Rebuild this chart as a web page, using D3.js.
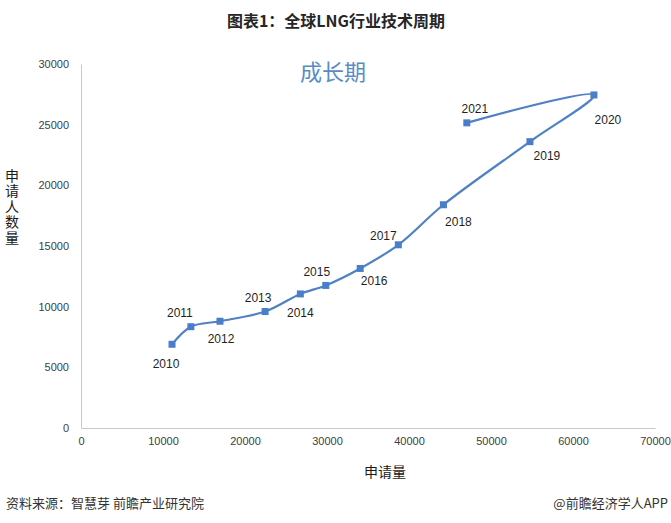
<!DOCTYPE html>
<html>
<head>
<meta charset="utf-8">
<script src="https://cdn.jsdelivr.net/npm/d3@7/dist/d3.min.js"></script>
<style>
  html, body { margin: 0; padding: 0; background: #ffffff; }
  svg { display: block; }
</style>
</head>
<body>
<svg id="chart" width="671" height="523"></svg>
<script>
// ---- data ----
const years = ["2010","2011","2012","2013","2014","2015","2016","2017","2018","2019","2020","2021"];
const applications = [11100, 13400, 16950, 22450, 26750, 29850, 34050, 38700, 44200, 54750, 62550, 47050]; // 申请量 (x)
const applicants   = [6900, 8350, 8800, 9600, 11050, 11750, 13150, 15100, 18400, 23600, 27450, 25150];   // 申请人数量 (y)
const xTicks = [0, 10000, 20000, 30000, 40000, 50000, 60000, 70000];
const yTicks = [0, 5000, 10000, 15000, 20000, 25000, 30000];

const title = "图表1：全球LNG行业技术周期";
const phaseLabel = "成长期";
const xTitle = "申请量";
const yTitle = "申请人数量";
const sourceText = "资料来源：智慧芽 前瞻产业研究院";
const brandText = "@前瞻经济学人APP";

// ---- layout ----
const svg = d3.select("#chart");
const plot = { left: 81, right: 655, top: 64, bottom: 428 };
const x = d3.scaleLinear().domain([0, 70000]).range([plot.left, plot.right]);
const y = d3.scaleLinear().domain([0, 30000]).range([plot.bottom, plot.top]);

const cjk = "'Noto Sans CJK SC', 'Noto Sans', sans-serif";
const latin = "'Liberation Sans', Arial, sans-serif";

// label placement relative to each marker (dx, dy)
const labelOffset = {
  "2010": [-6, 20], "2011": [-11, -14], "2012": [1, 18], "2013": [-7, -14],
  "2014": [0, 19], "2015": [-9, -13], "2016": [14, 13], "2017": [-15, -9],
  "2018": [15, 17], "2019": [17, 14], "2020": [14, 25], "2021": [8, -14]
};

// title
svg.append("text")
  .attr("x", 336).attr("y", 20)
  .attr("text-anchor", "middle").attr("dominant-baseline", "central")
  .style("font-family", cjk).style("font-weight", "bold")
  .style("font-size", "16px").style("fill", "#262626")
  .text(title);

// axes
const xAxis = d3.axisBottom(x).tickValues(xTicks).tickSize(0).tickPadding(9).tickFormat(d3.format("d"));
const yAxis = d3.axisLeft(y).tickValues(yTicks).tickSize(0).tickPadding(12).tickFormat(d3.format("d"));

const gx = svg.append("g").attr("transform", `translate(0,${plot.bottom})`).call(xAxis);
const gy = svg.append("g").attr("transform", `translate(${plot.left},0)`).call(yAxis);
[gx, gy].forEach(g => {
  g.select(".domain").attr("stroke", "#c8c8c8").attr("stroke-width", 1);
  g.selectAll("text").style("font-family", latin).style("font-size", "11px").style("fill", "#404040");
});

// axis titles
svg.append("text")
  .attr("x", 385).attr("y", 471)
  .attr("text-anchor", "middle").attr("dominant-baseline", "central")
  .style("font-family", cjk).style("font-size", "14px").style("fill", "#1a1a1a")
  .text(xTitle);

svg.append("text")
  .attr("x", 12).attr("y", 207)
  .attr("text-anchor", "middle")
  .style("font-family", cjk).style("font-size", "14px").style("fill", "#1a1a1a")
  .style("writing-mode", "vertical-rl")
  .style("text-orientation", "upright")
  .style("letter-spacing", "1.5px")
  .text(yTitle);

// phase annotation
svg.append("text")
  .attr("x", 333).attr("y", 70)
  .attr("text-anchor", "middle").attr("dominant-baseline", "central")
  .style("font-family", cjk).style("font-size", "22px").style("fill", "#5a8cc4")
  .text(phaseLabel);

// series
const pts = years.map((yr, i) => ({ year: yr, xv: applications[i], yv: applicants[i] }));

const line = d3.line()
  .x(d => x(d.xv)).y(d => y(d.yv))
  .curve(d3.curveCatmullRom.alpha(0.5));

svg.append("path")
  .datum(pts)
  .attr("d", line)
  .attr("fill", "none")
  .attr("stroke", "#4f81c3")
  .attr("stroke-width", 2.2);

svg.selectAll("rect.marker")
  .data(pts).enter().append("rect")
  .attr("class", "marker")
  .attr("x", d => x(d.xv) - 3.5).attr("y", d => y(d.yv) - 3.5)
  .attr("width", 7).attr("height", 7)
  .attr("fill", "#4a7ecb");

svg.selectAll("text.dlabel")
  .data(pts).enter().append("text")
  .attr("class", "dlabel")
  .attr("x", d => x(d.xv) + labelOffset[d.year][0])
  .attr("y", d => y(d.yv) + labelOffset[d.year][1])
  .attr("text-anchor", "middle").attr("dominant-baseline", "central")
  .style("font-family", latin).style("font-size", "12px").style("fill", "#1f1f1f")
  .text(d => d.year);

// footer
svg.append("text")
  .attr("x", 6).attr("y", 502)
  .attr("dominant-baseline", "central")
  .style("font-family", cjk).style("font-size", "13px").style("fill", "#333")
  .text(sourceText);
svg.append("text")
  .attr("x", 668).attr("y", 502)
  .attr("text-anchor", "end").attr("dominant-baseline", "central")
  .style("font-family", cjk).style("font-size", "13px").style("fill", "#333")
  .text(brandText);
</script>
</body>
</html>
